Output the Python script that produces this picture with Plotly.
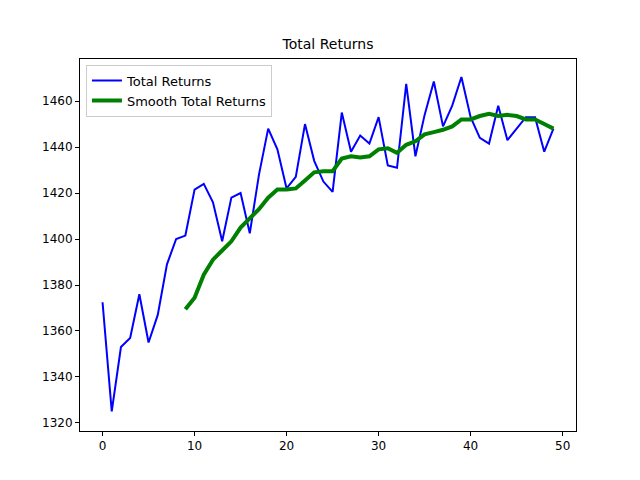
import plotly.graph_objects as go

x_total = list(range(50))
total_returns = [1372.5, 1325, 1353, 1357, 1376, 1355, 1367, 1389, 1400, 1401.5,
                 1421.5, 1424, 1416, 1399, 1418, 1420, 1402.5, 1428, 1448, 1439,
                 1422, 1427, 1450, 1434, 1425, 1420.5, 1455, 1438, 1445, 1441.5,
                 1453, 1432, 1431, 1467.5, 1436, 1454, 1468.5, 1449, 1458, 1470.5,
                 1453, 1444, 1441.5, 1458, 1443, 1448, 1453, 1453, 1438, 1448]
x_smooth = list(range(9, 50))
smooth_returns = [1369.5, 1374.5, 1384.5, 1391, 1395, 1399, 1405, 1409, 1413, 1418,
                  1421.5, 1421.5, 1422, 1425.5, 1429, 1429.5, 1429.5, 1435, 1436, 1435.5,
                  1436, 1439, 1439.5, 1437.5, 1441, 1442.5, 1445.5, 1446.5, 1447.5, 1449,
                  1452, 1452, 1453.5, 1454.5, 1453.5, 1454, 1453.5, 1452, 1452, 1450, 1448]

fig = go.Figure()
fig.add_trace(go.Scatter(x=x_total, y=total_returns, mode="lines", name="Total Returns",
                         line=dict(color="blue", width=2)))
fig.add_trace(go.Scatter(x=x_smooth, y=smooth_returns, mode="lines", name="Smooth Total Returns",
                         line=dict(color="green", width=4)))

axis = dict(showgrid=False, zeroline=False, showline=True, mirror=True, linecolor="black",
            linewidth=1, ticks="outside", ticklen=4, tickcolor="black",
            tickfont=dict(size=12, color="black"))
fig.update_xaxes(range=[-2.45, 51.45], tickvals=[0, 10, 20, 30, 40, 50], **axis)
fig.update_yaxes(range=[1316.5, 1478.3], tickvals=list(range(1320, 1461, 20)), **axis)

fig.update_layout(
    width=640, height=480,
    margin=dict(l=72, r=72, t=51, b=57),
    plot_bgcolor="white", paper_bgcolor="white",
    font=dict(family="DejaVu Sans", color="black"),
    title=dict(text="Total Returns", x=0.5, xanchor="center", y=0.925, yanchor="middle",
               font=dict(size=14)),
    legend=dict(x=0.012, y=0.985, xanchor="left", yanchor="top", bgcolor="white",
                bordercolor="#cccccc", borderwidth=1, font=dict(size=13)),
)

fig.write_html("out.html")
